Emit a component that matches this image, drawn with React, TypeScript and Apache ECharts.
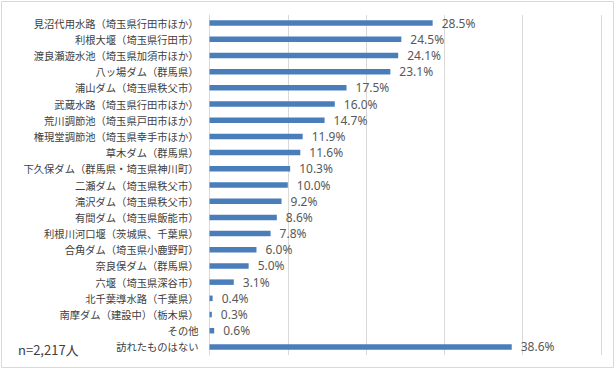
import React, { useEffect, useRef } from "react";
import * as echarts from "echarts";

const categories = [
  "見沼代用水路（埼玉県行田市ほか）",
  "利根大堰（埼玉県行田市）",
  "渡良瀬遊水池（埼玉県加須市ほか）",
  "八ッ場ダム（群馬県）",
  "浦山ダム（埼玉県秩父市）",
  "武蔵水路（埼玉県行田市ほか）",
  "荒川調節池（埼玉県戸田市ほか）",
  "権現堂調節池（埼玉県幸手市ほか）",
  "草木ダム（群馬県）",
  "下久保ダム（群馬県・埼玉県神川町）",
  "二瀬ダム（埼玉県秩父市）",
  "滝沢ダム（埼玉県秩父市）",
  "有間ダム（埼玉県飯能市）",
  "利根川河口堰（茨城県、千葉県）",
  "合角ダム（埼玉県小鹿野町）",
  "奈良俣ダム（群馬県）",
  "六堰（埼玉県深谷市）",
  "北千葉導水路（千葉県）",
  "南摩ダム（建設中）（栃木県）",
  "その他",
  "訪れたものはない",
];

const values = [28.5, 24.5, 24.1, 23.1, 17.5, 16.0, 14.7, 11.9, 11.6, 10.3, 10.0, 9.2, 8.6, 7.8, 6.0, 5.0, 3.1, 0.4, 0.3, 0.6, 38.6];

const sampleNote = "n=2,217人";

export default function App() {
  const ref = useRef<HTMLDivElement>(null);
  useEffect(() => {
    document.body.style.margin = "0";
    const chart = echarts.init(ref.current!, null, { renderer: "svg" });
    chart.setOption({
      animation: false,
      backgroundColor: "#ffffff",
      grid: { left: 209.5, width: 391.5, top: 15, height: 340, containLabel: false },
      xAxis: {
        type: "value",
        min: 0,
        max: 50,
        interval: 10,
        axisLabel: { show: false },
        axisLine: { show: false },
        axisTick: { show: false },
        splitLine: { show: true, lineStyle: { color: "#D9D9D9", width: 1 } },
      },
      yAxis: {
        type: "category",
        data: categories,
        inverse: true,
        axisLine: { show: true, lineStyle: { color: "#D9D9D9" } },
        axisTick: { show: false },
        axisLabel: {
          margin: 11,
          fontSize: 10.3,
          color: "#404040",
          fontFamily: "Noto Sans CJK JP",
        },
      },
      series: [
        {
          type: "bar",
          data: values,
          barWidth: 5.5,
          itemStyle: { color: "#4A7EBB" },
          label: {
            show: true,
            position: "right",
            distance: 9,
            formatter: (p: any) => p.value.toFixed(1) + "%",
            fontSize: 12,
            color: "#595959",
            fontFamily: "Noto Sans",
          },
        },
      ],
      graphic: [
        {
          type: "rect",
          shape: { x: 1.5, y: 1.5, width: 612, height: 366 },
          style: { fill: "none", stroke: "#D9D9D9", lineWidth: 1 },
          silent: true,
        },
        {
          type: "text",
          left: 18,
          top: 343,
          style: {
            text: sampleNote,
            fontSize: 13,
            fill: "#404040",
            fontFamily: "Noto Sans CJK JP",
          },
        },
      ],
    });
    return () => chart.dispose();
  }, []);
  return <div ref={ref} style={{ width: 616, height: 370 }} />;
}
